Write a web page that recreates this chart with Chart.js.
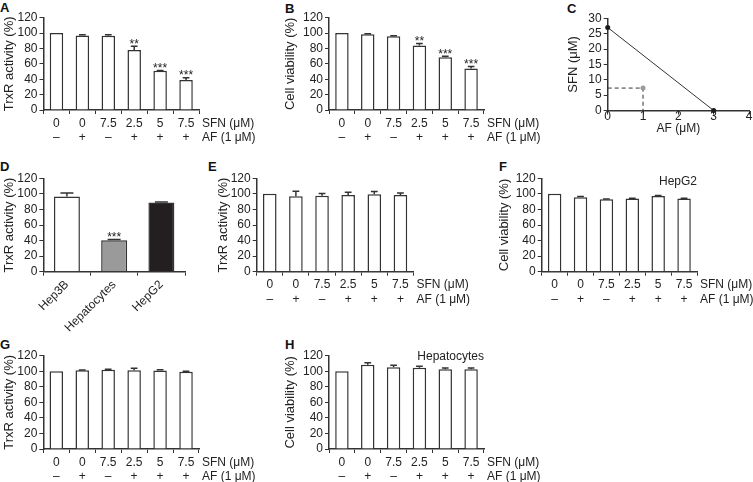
<!DOCTYPE html>
<html>
<head>
<meta charset="utf-8">
<script src="https://cdn.jsdelivr.net/npm/chart.js@4"></script>
<style>
  body { margin: 0; background: #fff; }
  #fig { position: relative; width: 753px; height: 482px; overflow: hidden; }
  .letter { position: absolute; font: bold 13px 'Liberation Sans', Arial, sans-serif; line-height: 1; color: #111; }
</style>
</head>
<body>
<div id="fig">
  <div class="letter" style="left:0px;top:1px">A</div>
  <div class="letter" style="left:285px;top:2px">B</div>
  <div class="letter" style="left:567px;top:2px">C</div>
  <div class="letter" style="left:0px;top:160px">D</div>
  <div class="letter" style="left:208px;top:160px">E</div>
  <div class="letter" style="left:499px;top:160px">F</div>
  <div class="letter" style="left:0px;top:338px">G</div>
  <div class="letter" style="left:285px;top:338px">H</div>
</div>
<script>
// shared x labels of the six-bar panels
const sfnDoses = ['0', '0', '7.5', '2.5', '5', '7.5'];
const afTreat = ['–', '+', '–', '+', '+', '+'];

// A: TrxR activity, Hep3B
const trxrHep3B = [100, 97, 96.5, 78, 51, 39];
const trxrHep3BErr = [0, 0.8, 1.2, 5, 0.5, 2.8];
const trxrHep3BSig = ['', '', '', '**', '***', '***'];

// B: cell viability, Hep3B
const viabHep3B = [100, 98.5, 96, 84, 68.5, 54];
const viabHep3BErr = [0, 0.5, 0.5, 2.5, 1.5, 2.5];
const viabHep3BSig = ['', '', '', '**', '***', '***'];

// C: isobologram
const isoAF = [0, 3];
const isoSFN = [27, 0];
const comboAF = [1];
const comboSFN = [7.3];
const afTicks = ['0', '1', '2', '3', '4'];
const sfnTicks = [0, 5, 10, 15, 20, 25, 30];

// D: basal TrxR activity per cell type
const cellTypes = ['Hep3B', 'Hepatocytes', 'HepG2'];
const trxrBasal = [96.5, 40.5, 89];
const trxrBasalErr = [4.5, 1, 0.5];
const trxrBasalSig = ['', '***', ''];
const cellColors = ['#ffffff', '#9a9a9a', '#231f20'];

// E: TrxR activity, HepG2
const trxrHepG2 = [100, 97, 97.5, 98.5, 99.5, 98.5];
const trxrHepG2Err = [0, 6.5, 3, 3.5, 3.5, 2.5];

// F: cell viability, HepG2
const viabHepG2 = [100, 95.5, 93, 94, 97.3, 94];
const viabHepG2Err = [0, 1, 0.5, 0.5, 0.5, 0.5];

// G: TrxR activity, hepatocytes
const trxrHepato = [100, 101.3, 102, 101.3, 101, 99.5];
const trxrHepatoErr = [0, 0.3, 0.5, 2.5, 1, 0.5];

// H: cell viability, hepatocytes
const viabHepato = [100, 108.3, 105.3, 104.4, 102.7, 102.7];
const viabHepatoErr = [0, 2.5, 2.5, 2, 1.5, 1.5];

const FONT = "'Liberation Sans', Arial, sans-serif";
const ink = '#222';
const axisColor = '#333';

Chart.defaults.font.family = FONT;
Chart.defaults.font.size = 12;
Chart.defaults.color = ink;

// upward error bars + significance stars
const errorBarPlugin = {
    id: 'errorBars',
    afterDatasetsDraw(chart) {
        const ds = chart.data.datasets[0];
        if (!ds.errors) return;
        const ctx = chart.ctx;
        const y = chart.scales.y;
        const meta = chart.getDatasetMeta(0);
        ctx.save();
        ctx.strokeStyle = axisColor;
        ctx.lineWidth = 1.5;
        meta.data.forEach((bar, i) => {
            const err = ds.errors[i] || 0;
            const topPx = y.getPixelForValue(ds.data[i] + err);
            if (err > 0) {
                const half = bar.width * 0.25;
                ctx.beginPath();
                ctx.moveTo(bar.x, bar.y);
                ctx.lineTo(bar.x, topPx);
                ctx.moveTo(bar.x - half, topPx);
                ctx.lineTo(bar.x + half, topPx);
                ctx.stroke();
            }
            if (ds.stars && ds.stars[i]) {
                ctx.fillStyle = ink;
                ctx.font = '12px ' + FONT;
                ctx.textAlign = 'center';
                ctx.textBaseline = 'alphabetic';
                ctx.fillText(ds.stars[i], bar.x, topPx + 1.5);
            }
        });
        ctx.restore();
    }
};

// "SFN (uM)" / "AF (1 uM)" row titles right of the x axis
const rowLabelPlugin = {
    id: 'rowLabels',
    afterDraw(chart, args, opts) {
        if (!opts || !opts.rows) return;
        const {ctx, chartArea, scales} = chart;
        ctx.save();
        ctx.font = '12px ' + FONT;
        ctx.fillStyle = ink;
        ctx.textAlign = 'left';
        ctx.textBaseline = 'middle';
        opts.rows.forEach((t, i) => {
            ctx.fillText(t, chartArea.right + 3, scales.x.top + 4 + 2 + 7.2 + i * 14.4);
        });
        ctx.restore();
    }
};

// cell line name in the top right corner
const notePlugin = {
    id: 'note',
    afterDraw(chart, args, opts) {
        if (!opts || !opts.text) return;
        const {ctx, chartArea} = chart;
        ctx.save();
        ctx.font = '12px ' + FONT;
        ctx.fillStyle = ink;
        ctx.textAlign = 'right';
        ctx.textBaseline = 'middle';
        ctx.fillText(opts.text, chartArea.right, chartArea.top + opts.dy);
        ctx.restore();
    }
};

// x tick numbers and axis title of the isobologram, tight under the axis
const afAxisPlugin = {
    id: 'afAxis',
    afterDraw(chart) {
        const {ctx, chartArea, scales: {x}} = chart;
        ctx.save();
        ctx.font = '12px ' + FONT;
        ctx.fillStyle = ink;
        ctx.textAlign = 'center';
        ctx.textBaseline = 'middle';
        afTicks.forEach(t => {
            ctx.fillText(t, x.getPixelForValue(Number(t)), x.top + 6);
        });
        ctx.fillText('AF (μM)', (chartArea.left + chartArea.right) / 2, x.top + 18);
        ctx.restore();
    }
};

function makeCanvas(id, left, top, width, height) {
    const c = document.createElement('canvas');
    c.id = id;
    c.width = width;
    c.height = height;
    c.style.cssText = `position:absolute;left:${left}px;top:${top}px;width:${width}px;height:${height}px`;
    document.getElementById('fig').appendChild(c);
    return c;
}

function renderBarPanel(p) {
    const [cl, ct, cw, ch] = p.canvas;
    const [L, T, R, B] = p.area;
    const canvas = makeCanvas(p.id, cl, ct, cw, ch);
    const labels = p.rotate ? p.labels : p.labels.map((s, i) => [s, afTreat[i]]);

    new Chart(canvas.getContext('2d'), {
        type: 'bar',
        data: {
            labels: labels,
            datasets: [{
                data: p.values,
                errors: p.errors,
                stars: p.stars,
                backgroundColor: p.colors || '#ffffff',
                borderColor: axisColor,
                borderWidth: 1.5,
                barPercentage: p.barPct,
                categoryPercentage: 1
            }]
        },
        options: {
            responsive: false,
            animation: false,
            layout: { padding: { left: 0, top: T - ct, right: cl + cw - R, bottom: 0 } },
            plugins: {
                legend: { display: false },
                tooltip: { enabled: false },
                rowLabels: { rows: p.rotate ? null : ['SFN (μM)', 'AF (1 μM)'] },
                note: { text: p.note, dy: p.noteDy }
            },
            scales: {
                x: {
                    grid: { offset: true, drawOnChartArea: false, tickLength: 4, color: axisColor, lineWidth: 1 },
                    border: { color: axisColor, width: 1.5 },
                    ticks: {
                        autoSkip: false,
                        maxRotation: p.rotate || 0,
                        minRotation: p.rotate || 0,
                        padding: 2,
                        font: { size: 12 }
                    },
                    afterFit: s => { s.height = ct + ch - B; }
                },
                y: {
                    min: 0,
                    max: 120,
                    grid: { drawOnChartArea: false, tickLength: 4, color: axisColor, lineWidth: 1 },
                    border: { color: axisColor, width: 1.5 },
                    ticks: { stepSize: 20, autoSkip: false, padding: 2, font: { size: 12 } },
                    title: {
                        display: true,
                        text: p.yTitle,
                        font: { size: 13 },
                        padding: { top: p.titleX - cl - 7.8, bottom: 0 }
                    },
                    afterFit: s => { s.width = L - cl; }
                }
            }
        },
        plugins: [errorBarPlugin, rowLabelPlugin, notePlugin]
    });
}

function renderIsobologram() {
    const cl = 555, ct = 6, cw = 198, ch = 137;
    const L = 607.7, T = 18.3, R = 750, B = 110.5;
    const canvas = makeCanvas('isoChart', cl, ct, cw, ch);
    const isoPts = isoAF.map((x, i) => ({ x: x, y: isoSFN[i] }));
    const guidePts = [
        { x: 0, y: comboSFN[0] },
        { x: comboAF[0], y: comboSFN[0] },
        { x: comboAF[0], y: 0 }
    ];

    new Chart(canvas.getContext('2d'), {
        type: 'scatter',
        data: {
            datasets: [{
                data: isoPts,
                showLine: true,
                borderColor: axisColor,
                borderWidth: 1,
                pointRadius: 2.5,
                pointBackgroundColor: '#1a1a1a',
                pointBorderWidth: 0,
                clip: false
            },
            {
                data: guidePts,
                showLine: true,
                borderColor: axisColor,
                borderWidth: 1,
                borderDash: [4, 3],
                pointRadius: [0, 2.5, 0],
                pointBackgroundColor: '#9a9a9a',
                pointBorderWidth: 0,
                clip: false
            }]
        },
        options: {
            responsive: false,
            animation: false,
            layout: { padding: { left: 0, top: T - ct, right: cl + cw - R, bottom: 0 } },
            plugins: { legend: { display: false }, tooltip: { enabled: false } },
            scales: {
                x: {
                    type: 'linear',
                    min: 0,
                    max: 4,
                    afterBuildTicks: s => { s.ticks = afTicks.map(t => ({ value: Number(t) })); },
                    ticks: { display: false },
                    grid: { drawOnChartArea: false, tickLength: 4, color: axisColor },
                    border: { color: axisColor, width: 1.5 },
                    afterFit: s => { s.height = ct + ch - B; }
                },
                y: {
                    min: 0,
                    max: 30,
                    afterBuildTicks: s => { s.ticks = sfnTicks.map(v => ({ value: v })); },
                    ticks: { autoSkip: false, padding: 2, font: { size: 12 } },
                    grid: { drawOnChartArea: false, tickLength: 4, color: axisColor },
                    border: { color: axisColor, width: 1.5 },
                    title: { display: true, text: 'SFN (μM)', font: { size: 13 }, padding: { top: 573 - cl - 7.8, bottom: 0 } },
                    afterFit: s => { s.width = L - cl; }
                }
            }
        },
        plugins: [afAxisPlugin]
    });
}

document.addEventListener('DOMContentLoaded', function() {
    renderBarPanel({ id: 'chartA', canvas: [0, 6, 265, 142], area: [43.5, 17.7, 199, 110], titleX: 9,
        yTitle: 'TrxR activity (%)', labels: sfnDoses, values: trxrHep3B, errors: trxrHep3BErr, stars: trxrHep3BSig, barPct: 0.52 });
    renderBarPanel({ id: 'chartB', canvas: [250, 6, 295, 142], area: [329, 17.7, 484, 110], titleX: 290,
        yTitle: 'Cell viability (%)', labels: sfnDoses, values: viabHep3B, errors: viabHep3BErr, stars: viabHep3BSig, barPct: 0.52 });
    renderIsobologram();
    renderBarPanel({ id: 'chartD', canvas: [0, 168, 250, 175], area: [43.3, 178.3, 185, 271.7], titleX: 9,
        yTitle: 'TrxR activity (%)', labels: cellTypes, values: trxrBasal, errors: trxrBasalErr, stars: trxrBasalSig,
        colors: cellColors, barPct: 0.55, rotate: 45 });
    renderBarPanel({ id: 'chartE', canvas: [210, 168, 270, 142], area: [256.7, 178.3, 413.5, 271.7], titleX: 223,
        yTitle: 'TrxR activity (%)', labels: sfnDoses, values: trxrHepG2, errors: trxrHepG2Err, barPct: 0.52 });
    renderBarPanel({ id: 'chartF', canvas: [495, 168, 258, 142], area: [541.7, 178.3, 697, 271.7], titleX: 504,
        yTitle: 'Cell viability (%)', labels: sfnDoses, values: viabHepG2, errors: viabHepG2Err, barPct: 0.52,
        note: 'HepG2', noteDy: 3.4 });
    renderBarPanel({ id: 'chartG', canvas: [0, 344, 265, 138], area: [43.3, 355.7, 199, 449], titleX: 9,
        yTitle: 'TrxR activity (%)', labels: sfnDoses, values: trxrHepato, errors: trxrHepatoErr, barPct: 0.52 });
    renderBarPanel({ id: 'chartH', canvas: [250, 344, 295, 138], area: [329, 355.7, 484, 449], titleX: 290,
        yTitle: 'Cell viability (%)', labels: sfnDoses, values: viabHepato, errors: viabHepatoErr, barPct: 0.52,
        note: 'Hepatocytes', noteDy: 1 });
});
</script>
</body>
</html>
